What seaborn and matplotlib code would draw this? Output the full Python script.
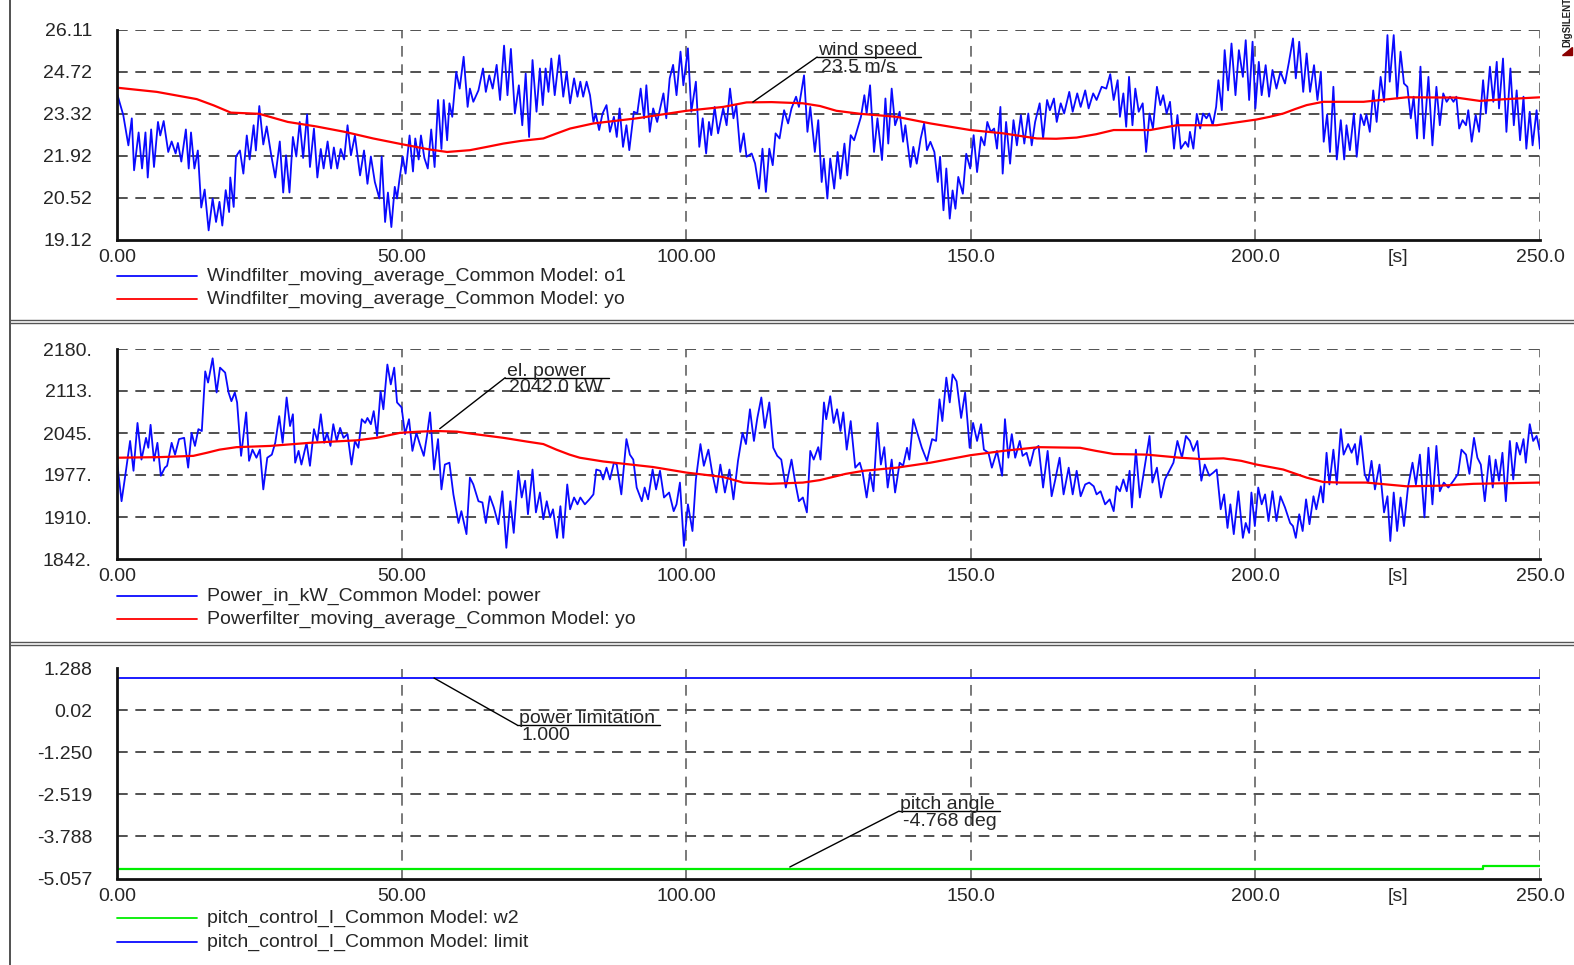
import numpy as np
import pandas as pd
import matplotlib
matplotlib.use("Agg")
import matplotlib.pyplot as plt
from matplotlib.lines import Line2D
from matplotlib.patches import Polygon
import seaborn as sns

sns.set_theme(style="white")
plt.rcParams["font.family"] = ["Liberation Sans", "DejaVu Sans"]
FS = 14
plt.rcParams["font.size"] = FS

# ---- wind speed (o1), [s] / [m/s]
wind_t = [0, 1.1, 2, 2.6, 3, 3.8, 4.4, 5, 5.4, 6, 6.5, 7.2, 7.6, 8.2, 9, 9.6, 10.3, 10.7, 11.3, 12.1,
          12.6, 13, 13.6, 14.2, 14.8, 15.4, 16.1, 16.8, 17.4, 18, 18.5, 19.1, 19.7, 19.9, 20.5, 20.9, 21.6,
          22.2, 22.8, 23.3, 24, 24.4, 25, 25.7, 26.3, 27.1, 27.8, 28.6, 29.2, 29.7, 30.3, 30.9, 31.5, 32.1,
          32.7, 33.4, 33.9, 34.6, 35.2, 35.8, 36.3, 37, 37.6, 38.1, 38.7, 39.3, 39.9, 40.5, 41.1, 41.8, 42.7,
          43.4, 44, 44.6, 45.3, 46.1, 46.5, 47.1, 47.6, 48.2, 48.8, 49.2, 49.6, 50.2, 50.7, 51.4, 52, 52.4,
          53, 53.4, 54, 54.6, 55.2, 55.8, 56.4, 57, 57.4, 58, 58.4, 58.9, 59.6, 60.2, 60.9, 61.6,
          62, 62.6, 63.5, 64.3, 64.8, 65.4, 66, 66.7, 67.3, 68, 68.6, 69.2, 69.9, 70.6, 71.2, 71.8, 72.4,
          73, 73.7, 74.3, 74.8, 75.3, 75.8, 76.3, 76.9, 77.7, 78.4, 79, 79.6, 80.3, 80.9, 81.4, 81.9, 82.5,
          83.1, 83.7, 84.1, 84.7, 85.3, 86, 86.6, 87.3, 87.8, 88.3, 88.9, 89.5, 90, 90.8, 91.4, 92, 92.6,
          93, 93.6, 94.2, 94.9, 96, 96.5, 97.1, 97.7, 98.3, 99, 99.5, 100.3, 100.9, 101.7, 102.3, 102.9,
          103.5, 104, 104.4, 105, 105.6, 106.5, 107.1, 107.7, 108.3, 108.8, 109.5, 110.1, 110.6, 111.5,
          112.1, 112.8, 113.4, 114, 114.6, 115.2, 115.7, 116.4, 117.2, 117.9, 118.5, 119.3, 119.8, 120.7,
          121.3, 121.8, 122.6, 123.2, 123.8, 124.2, 124.8,
          125.3, 126, 126.6, 127.1, 127.8, 128.3, 128.9, 129.5, 130.1, 130.7, 131.3, 131.7, 132.3, 133,
          133.6, 134.4, 135, 135.5, 136.1, 136.7, 137.5, 138.1, 138.5, 139.4, 139.9, 140.5, 141.2, 141.8,
          142.3, 142.9, 143.6, 144.2, 144.6, 145.2, 145.7, 146.3, 146.8, 147.3, 147.8, 148.6, 149.2, 149.9,
          150.5, 151.1, 151.8, 152.4, 152.9, 153.5, 154.1, 154.6, 155.2, 155.6, 156.2, 156.9, 157.5, 158.1,
          158.8, 159.4, 160.1, 160.7, 161.3, 162.1, 162.7, 163.4, 163.9, 164.6, 165.1, 165.8, 166.4, 167.3,
          167.9, 168.7, 169.3, 170.1, 170.7, 171.5, 172.1, 173, 173.8, 174.5, 175.1, 175.8, 176.2, 176.8,
          177.3, 177.8, 178.4, 178.9, 179.5, 180.2, 180.8, 181.4, 182, 182.7, 183.3, 183.8, 184.4, 185,
          185.7, 186.3, 186.9, 187.7, 188.2,
          188.5, 189.1, 189.7, 190.3, 190.8, 191.4, 191.9, 192.5, 193.1, 193.5, 194.1, 194.6, 195.2, 195.8,
          196.5, 197.1, 197.8, 198.3, 198.9, 199.5, 200, 200.6, 201.1, 201.8, 202.4, 203, 203.7, 204.4,
          205.2, 205.9, 206.6, 207.1, 207.7, 208.4, 209, 209.6, 210.3, 210.9, 211.5, 212, 212.6, 213.1,
          213.7, 214.3, 215, 215.6, 216, 216.6, 217.3, 217.8, 218.5, 219.1, 219.5, 220.1, 220.7, 221.3,
          222, 222.6, 223.2, 223.6, 224.3, 224.9, 225.5, 226.1, 226.7, 227.3, 227.8, 228.4, 229, 229.6,
          230.4, 231.1, 231.8, 232.4, 233, 233.6, 234.2, 234.8, 235.3, 235.8, 236.4, 237, 237.4, 238,
          238.7, 239.3, 240, 240.5, 241.2, 241.8, 242.4, 242.8, 243.5, 244.1, 244.8, 245.4, 245.9, 246.5,
          247.1, 247.6, 248.2, 248.7, 249.4, 250]
wind_v = [24.0, 23.28, 22.27, 23.17, 21.44, 22.7, 21.5, 22.7, 21.2, 22.8, 21.55, 23.05, 22.6, 23.08, 22.05,
          22.4, 22.0, 22.35, 21.73, 22.8, 21.5, 22.7, 21.5, 22.1, 20.2, 20.8, 19.44, 20.5, 19.72, 20.39,
          19.6, 20.78, 20.05, 21.2, 20.22, 21.9, 22.1, 21.33, 22.6, 21.8, 22.94, 22.1, 23.58, 22.3, 22.9,
          21.94, 21.2, 22.4, 20.7, 21.94, 20.7, 22.55, 21.9, 23.05, 21.85, 23.3, 21.55, 22.83, 21.2, 22.15,
          21.5, 22.4, 21.5, 22.2, 21.5, 22.15, 21.8, 22.94, 21.94, 22.6, 21.27, 22.1, 20.99, 21.9, 21.05,
          20.5, 21.9, 19.72, 20.7, 19.55, 20.89, 20.5, 21.1, 21.9, 21.33, 22.6, 21.4, 22.5, 21.8, 22.6,
          21.85, 21.5, 22.8, 21.55, 23.78, 22.15, 23.78, 22.44, 23.67, 23.22, 24.72, 24.16, 25.22, 23.55,
          24.16, 23.72, 24.1, 24.83, 24.05, 24.6, 24.16, 24.95, 23.78, 25.59, 23.94, 25.48, 23.33, 24.27,
          22.94, 24.66, 22.55, 25.11, 23.39, 24.83, 23.61, 24.83, 24.05, 25.16, 23.94, 25.27, 23.89, 24.72,
          23.67, 24.5, 23.89, 24.39, 23.89, 24.39, 23.94, 23.05, 23.33, 22.78, 23.33, 23.61, 22.72, 23.22,
          22.55, 23.5, 22.22, 22.94, 22.11, 23.39, 23.33, 24.16, 23.17, 24.27, 22.72, 23.5, 23.05, 24.0,
          23.17, 24.5, 24.95, 23.94, 25.39, 24.27, 25.5, 23.39, 24.39, 22.22, 23.17, 22.0, 23.05, 22.61,
          23.55, 22.67, 23.5, 22.94, 24.16, 23.17, 23.61, 22.05, 22.67, 21.89, 22.0, 21.67, 20.83, 22.16,
          20.72, 22.16, 21.61, 22.67, 22.5, 23.44, 23.0, 23.5, 23.89, 23.55, 24.6, 22.72, 23.55, 22.05,
          23.11, 21.05, 21.83, 20.5,
          21.83, 20.83, 22.05, 21.16, 22.33, 21.27, 22.61, 22.44, 22.83, 23.22, 23.94, 23.33, 24.27, 22.05,
          23.17, 21.78, 23.83, 22.33, 24.16, 22.94, 23.39, 22.39, 22.94, 21.55, 22.22, 21.66, 22.5, 23.0,
          22.11, 22.39, 22.05, 21.05, 21.89, 20.11, 21.5, 19.83, 20.77, 20.16, 21.22, 20.66, 21.99, 21.5,
          22.61, 21.38, 22.55, 22.27, 23.05, 22.72, 22.83, 22.16, 23.55, 21.33, 23.05, 21.66, 23.11, 22.27,
          23.28, 22.33, 23.33, 22.27, 23.05, 23.67, 22.5, 23.78, 23.44, 23.83, 23.05, 23.67, 23.33, 24.05,
          23.39, 24.0, 23.55, 24.1, 23.5, 24.0, 23.78, 24.22, 24.16, 24.64, 23.78, 24.44, 23.22, 24.0,
          22.89, 24.55, 22.94, 24.16, 23.39, 23.67, 22.05, 23.33, 22.83, 24.22, 23.61, 23.94, 23.33, 23.72,
          22.16, 23.28, 22.16, 22.39, 22.22,
          22.72, 22.16, 23.32, 22.83, 23.33, 23.17, 23.33, 22.94, 23.55, 24.44, 23.44, 25.44, 24.1, 25.66,
          23.94, 25.44, 24.55, 25.77, 23.78, 25.72, 23.5, 25.05, 23.94, 24.94, 23.89, 24.78, 24.16, 24.72,
          24.33, 25.05, 25.83, 24.5, 25.72, 24.05, 25.33, 24.05, 24.94, 23.78, 24.72, 22.39, 23.3, 22.05,
          24.22, 21.8, 23.11, 21.8, 22.94, 22.11, 23.33, 21.89, 23.3, 22.94, 23.3, 22.72, 24.1, 23.05,
          24.55, 23.72, 25.94, 24.39, 25.94, 23.83, 25.39, 24.33, 24.22, 23.17, 23.89, 22.5, 24.89, 22.5,
          24.55, 22.27, 24.22, 22.94, 24.0, 23.72, 23.89, 23.72, 23.89, 22.83, 23.11, 22.94, 23.44, 22.39,
          23.28, 22.72, 24.44, 23.33, 24.89, 23.72, 25.05, 23.5, 25.16, 22.72, 24.83, 22.94, 24.1, 22.44,
          23.89, 22.16, 23.39, 22.27, 23.44, 22.16]

# ---- wind moving average (yo)
wind_avg_t = [0, 7, 14, 17, 20, 25, 30, 35, 40, 45, 50, 55, 58, 62, 65, 67.9, 71, 74.9, 77, 79.6, 83.7,
              91.3, 100, 106.5, 110.6, 115, 120.5, 123.5, 126.4, 130.6, 137, 142.9, 149.9, 155.7,
              161.6, 165, 168.6, 172, 175.1, 181.5, 186.2, 193.2, 200.2, 202.5, 204.9, 207, 209,
              211.9, 219, 226.6, 235.3, 239.4, 244.1, 250]
wind_avg_v = [24.19, 24.05, 23.81, 23.6, 23.36, 23.32, 23.05, 22.9, 22.72, 22.5, 22.31, 22.13, 22.05,
              22.11, 22.22, 22.33, 22.42, 22.5, 22.65, 22.83, 23.0, 23.17, 23.42, 23.55, 23.7, 23.71,
              23.67, 23.58, 23.42, 23.32, 23.22, 23.0, 22.78, 22.67, 22.5, 22.49, 22.53, 22.64, 22.78,
              22.78, 22.94, 22.94, 23.13, 23.22, 23.33, 23.48, 23.61, 23.72, 23.72, 23.87, 23.86,
              23.75, 23.81, 23.87]

# ---- electrical power [kW]
power_t = [0, 0.8, 1.4, 2.3, 2.9, 3.6, 4.3, 5.1, 5.5, 5.9, 6.5, 7.1, 7.7, 8.4, 8.8, 9.6, 10.2, 10.9, 11.8,
           12.5, 13.1, 13.7, 14.3, 14.9, 15.5, 16, 16.8, 17.5, 18.1, 19, 19.6, 20.1, 20.7, 21.1, 21.8,
           22.7, 23.2, 23.8, 24.5, 25.1, 25.7, 26.4, 27.2, 27.8, 28.5, 29.1, 29.8, 30.4, 30.9, 31.3,
           31.9, 32.4, 33.3, 33.9, 34.6, 35.2, 35.8, 36.4, 36.9, 37.5, 38, 38.6, 39.2, 39.8, 40.5, 41.2,
           41.8, 42.4, 43, 43.6, 44, 44.6, 45.1, 45.7, 46.3, 46.8, 47.5, 48.1, 48.7, 49.2, 50, 50.6,
           51.3, 51.9, 52.6, 53.2, 53.9, 54.5, 55, 55.7, 56.4, 57, 57.6, 58.4, 59.1, 60, 60.5, 61.4,
           62, 62.6, 63.5, 64.2, 64.8, 65.5, 66.2, 67, 67.7, 68.4, 69.1, 69.7, 70.5, 71.1, 71.7, 72.2,
           73, 73.6, 74.3, 74.9, 75.5, 76.1, 76.6, 77.3, 77.9, 78.4, 79.1, 79.6, 80.3, 80.9, 81.4, 82.2,
           83, 83.7, 84.2, 84.9, 85.4, 86, 86.6, 87.3, 87.8, 88.6, 89.5, 90.1, 90.7, 91.3, 92.2, 92.7,
           93.3, 94.1, 94.7, 95.4, 96.1, 97, 97.8, 98.3, 98.9, 99.6, 100.3, 101.1, 101.7, 102.5, 103.1,
           103.9, 104.6, 105.3, 106, 106.8, 107.6, 108.3, 109.1, 109.9, 110.5, 111.2, 111.9, 112.5,
           113.2, 113.8, 114.6, 115.3, 116, 116.7, 117.5, 118.5, 119.1, 119.8, 120.5, 121.2, 121.8,
           122.4, 123.2, 123.6, 124.2, 124.6,
           125.3, 125.9, 126.5, 127.1, 127.6, 128.2, 128.9, 129.7, 130.5, 131, 131.7, 132.3, 132.9,
           133.6, 134.2, 134.8, 135.4, 136.1, 136.7, 137.5, 138.1, 138.8, 139.2, 139.9, 140.6, 141.4,
           142.3, 143.2, 143.9, 144.5, 145, 145.7, 146.3, 146.8, 147.5, 148.3, 149, 149.8, 150.4, 151.1,
           151.8, 152.3, 153.1, 153.7, 154.6, 155.5, 156, 156.6, 157.2, 157.8, 158.6, 159.1, 159.8,
           160.4, 161.1, 161.9, 162.7, 163.5, 164.2, 164.8, 165.6, 166.3, 167.2, 167.9, 168.6, 169.3,
           170.1, 170.8, 171.6, 172.1, 172.8, 173.6, 174.4, 175.1, 175.6, 176.2, 176.8, 177.4, 177.9,
           178.3, 179, 179.7, 180.6, 181.4, 181.9, 182.7, 183.4, 184.1, 185, 185.6, 186.3, 187.1, 187.8,
           188.5, 189.1, 189.8, 190.5, 191.1, 191.9, 192.6, 193.2, 193.9, 194.5, 195.1, 195.6, 196.2,
           197, 197.8, 198.3, 198.9, 199.3, 199.9, 200.5, 201.1, 201.7, 202.3, 203, 203.7, 204.4, 205.2,
           206.1, 206.6, 207.1, 207.7, 208.3, 208.9, 209.5, 210.2, 210.7, 211.5, 211.9, 212.5, 213,
           213.7, 214.3, 215, 215.5, 216.3, 216.9, 217.5, 217.9, 218.5, 219.2, 219.8, 220.4, 221, 221.8,
           222.6, 223.2, 223.7, 224.3, 224.9, 225.5, 226.1, 226.8, 227.6, 228.2, 228.9, 229.7, 230.4,
           231.1, 231.8, 232.4, 233.1, 233.9, 234.8, 235.6, 236.2, 237, 237.6, 238.4, 239, 239.6, 240.3,
           241.1, 241.7, 242.2, 242.8, 243.4, 244, 244.7, 245.3, 245.9, 246.5, 247.1, 247.5, 248.2,
           248.8, 249.4, 250]
power_v = [2000, 1935, 1973, 2032, 1984, 2061, 2002, 2037, 2021, 2058, 2000, 2029, 1976, 1989, 1992, 2029,
           2010, 2035, 2037, 1989, 2045, 2024, 2051, 2048, 2144, 2126, 2165, 2110, 2150, 2142, 2110, 2096,
           2110, 2094, 2008, 2078, 2000, 2018, 2005, 2018, 1954, 2005, 2010, 2029, 2072, 2029, 2102, 2056,
           2075, 1997, 2016, 1994, 2029, 1992, 2051, 2032, 2075, 2029, 2045, 2024, 2059, 2032, 2053, 2037,
           2043, 1994, 2032, 2021, 2067, 2061, 2069, 2059, 2080, 2040, 2112, 2083, 2155, 2123, 2150, 2094,
           2086, 2043, 2067, 2016, 2045, 2027, 2008, 2043, 2078, 1986, 2035, 1954, 1994, 1997, 1946, 1900,
           1919, 1882,
           1973, 1962, 1935, 1933, 1900, 1943, 1925, 1898, 1951, 1860, 1935, 1884, 1984, 1941, 1968, 1914,
           1986, 1917, 1949, 1906, 1935, 1909, 1922, 1876, 1927, 1876, 1962, 1922, 1941, 1930, 1941, 1930,
           1938, 1946, 1986, 1984, 1970, 1989, 1970, 1997, 1994, 1946, 2035, 2010, 2002, 1957, 1935, 1957,
           1938, 1986, 1954, 1984, 1941, 1949, 1919, 1930, 1965, 1863, 1930, 1887, 1970, 2027, 1992, 2018,
           1979, 1949, 1994, 1949, 1986, 1938, 2000, 2045, 2027, 2083, 2032, 2069, 2102, 2053, 2094, 2021,
           2008, 2002, 1957, 2002, 1968, 1935, 1941, 1917, 2016, 2002, 2022, 2002, 2094, 2067,
           2104, 2061, 2083, 2048, 2078, 2018, 2064, 1989, 1997, 1981, 1941, 1981, 1951, 2061, 1994, 2022,
           1957, 2002, 1949, 1997, 1992, 2021, 2002, 2067, 2045, 2021, 2000, 2035, 2032, 2099, 2064, 2134,
           2094, 2139, 2128, 2069, 2110, 2021, 2061, 2032, 2059, 2018, 2013, 1989, 2016, 1976, 2067, 2005,
           2043, 2005, 2032, 2008, 2013, 1992, 2018, 2024, 1957, 2016, 1943, 1968, 2005, 1946, 1989, 1946,
           1984, 1943, 1962, 1965, 1959, 1946, 1951, 1930, 1938, 1919, 1959, 1951, 1970, 1951, 1984, 1925,
           2018, 1941, 1994, 2040, 1965, 1989, 1941, 1970, 1986, 1997, 2032, 2005, 2040,
           2032, 2016, 2032, 1968, 1994, 1976, 1981, 1986, 1922, 1946, 1892, 1930, 1882, 1951, 1876, 1900,
           1884, 1949, 1895, 1957, 1930, 1946, 1903, 1951, 1903, 1943, 1925, 1900, 1895, 1876, 1914, 1887,
           1938, 1898, 1943, 1922, 1959, 1933, 2013, 1962, 2018, 1962, 2051, 2010, 2027, 2013, 2027, 1994,
           2040, 1979, 1965, 2000, 1954, 1994, 1917, 1943, 1871, 1949, 1887, 1941, 1895, 1957, 1997, 1962,
           2010, 1909, 2021, 1930, 2024, 1951, 1965, 1957, 1968, 1979, 2018, 2010, 1979, 2037, 2005, 1994,
           1935, 2008, 1957, 2002, 1968, 2013, 1935, 2032, 1970, 2029, 2010, 2035, 1997, 2059, 2032, 2040,
           2018]

# ---- power moving average (yo)
power_avg_t = [0, 7.6, 13.4, 15.8, 18, 21, 26.9, 33.9, 42.1, 45.6, 49.7, 53, 56.1, 59.7, 62, 67.9, 72,
               74.9, 77.2, 79.5, 81.3, 85.4, 94.2, 100.1, 106.5, 110, 114.7, 120.5, 123.5, 125.3, 128,
               131.2, 137, 142.9, 149.9, 155.7, 161.9, 169.2, 172, 175.1, 180.9, 186.8, 190.3, 194.4,
               197.5, 200.2, 204.9, 209, 211.9, 215, 219.5, 226.6, 232.4, 238.3, 250]
power_avg_v = [2005, 2006, 2008, 2013, 2018, 2022, 2024, 2029, 2033, 2037, 2045, 2047, 2048, 2047, 2044,
               2037, 2031, 2027, 2018, 2010, 2005, 1999, 1990, 1981, 1974, 1965, 1963, 1965, 1969, 1973,
               1979, 1984, 1989, 1997, 2009, 2016, 2022, 2021, 2016, 2011, 2010, 2005, 2003, 2004, 2000,
               1994, 1986, 1973, 1966, 1965, 1965, 1959, 1960, 1963, 1965]

# ---- pitch controller
pitch_t = [0, 240, 250]
pitch_v = [-4.768, -4.67, -4.67]
limit_t = [0, 250]
limit_v = [1.0, 1.0]

x_ticks = [0, 50, 100, 150, 200, 225, 250]
x_labels = ["0.00", "50.00", "100.00", "150.0", "200.0", "[s]", "250.0"]
wind_labels = ["19.12", "20.52", "21.92", "23.32", "24.72", "26.11"]
power_labels = ["1842.", "1910.", "1977.", "2045.", "2113.", "2180."]
pitch_labels = ["-5.057", "-3.788", "-2.519", "-1.250", "0.02", "1.288"]

BLUE, RED, GREEN = "#0a0aff", "#ff0000", "#00ee00"
W, H = 1574, 965

fig = plt.figure(figsize=(W / 100, H / 100), dpi=100)
fig.patch.set_facecolor("white")


def make_axes(top_px, bottom_px):
    return fig.add_axes([117 / W, 1 - bottom_px / H, (1540 - 117) / W, (bottom_px - top_px) / H])


def style_axes(ax, lo, hi, labels):
    yt = np.linspace(lo, hi, 6)
    ax.set_xlim(0, 250)
    ax.set_ylim(lo, hi)
    ax.set_xticks(x_ticks, x_labels)
    ax.set_xticks([25, 75, 125, 175], minor=True)
    ax.set_yticks(yt, labels)
    ax.set_yticks((yt[:-1] + yt[1:]) / 2, minor=True)
    ax.tick_params(axis="y", which="major", direction="in", length=0, pad=18, labelsize=FS)
    ax.tick_params(axis="x", which="major", direction="in", length=6, width=1.2, pad=6.5, labelsize=FS)
    ax.tick_params(which="minor", direction="in", length=5, width=1.2, color="#333333")
    ax.tick_params(axis="x", which="major", color="#333333")
    for s in ["top", "right"]:
        ax.spines[s].set_visible(False)
    for s in ["left", "bottom"]:
        ax.spines[s].set_color("#111111")
        ax.spines[s].set_linewidth(2)
    for y in yt[1:]:
        ax.axhline(y, color="#222222", lw=1.1, ls=(0, (7, 5)), zorder=0.5)
    for x in [50, 100, 150, 200, 250]:
        ax.axvline(x, color="#555555", lw=1.1, ls=(0, (7, 5)), zorder=0.5)
    ax.set_xlabel("")
    ax.set_ylabel("")
    ax.set_facecolor("white")


def callout(ax, tip, anchor, end_x, title, value):
    ax.annotate("", xy=tip, xytext=anchor,
                arrowprops=dict(arrowstyle="-", color="black", lw=1, shrinkA=0, shrinkB=0))
    ax.plot([anchor[0], end_x], [anchor[1], anchor[1]], color="black", lw=1)
    ax.annotate(title, xy=anchor, xytext=(1, 1.5), textcoords="offset points",
                ha="left", va="baseline", fontsize=FS)
    ax.annotate(value, xy=anchor, xytext=(3, -1.2), textcoords="offset points",
                ha="left", va="top", fontsize=FS)


def legend(rows, y_px):
    for (label, color), y in zip(rows, y_px):
        fig.add_artist(Line2D([117 / W, 197 / W], [1 - y / H] * 2, color=color, lw=1.3))
        fig.text(207 / W, 1 - y / H, label, ha="left", va="center", fontsize=FS)


# panel 1: wind
ax1 = make_axes(30, 240)
sns.lineplot(data=pd.DataFrame({"t": wind_t, "v": wind_v}), x="t", y="v", ax=ax1,
             color=BLUE, lw=1.3, estimator=None, sort=False)
sns.lineplot(data=pd.DataFrame({"t": wind_avg_t, "v": wind_avg_v}), x="t", y="v", ax=ax1,
             color=RED, lw=1.6, estimator=None, sort=False)
callout(ax1, (111.7, 23.71), (123.0, 25.21), 141.2, "wind speed", "23.5 m/s")
style_axes(ax1, 19.12, 26.11, wind_labels)
legend([("Windfilter_moving_average_Common Model: o1", BLUE),
        ("Windfilter_moving_average_Common Model: yo", RED)], [276, 299])

# panel 2: power
ax2 = make_axes(349, 559)
sns.lineplot(data=pd.DataFrame({"t": power_t, "v": power_v}), x="t", y="v", ax=ax2,
             color=BLUE, lw=1.3, estimator=None, sort=False)
sns.lineplot(data=pd.DataFrame({"t": power_avg_t, "v": power_avg_v}), x="t", y="v", ax=ax2,
             color=RED, lw=1.6, estimator=None, sort=False)
callout(ax2, (56.7, 2051.7), (68.2, 2133.8), 86.4, "el. power", "2042.0 kW")
style_axes(ax2, 1842, 2180, power_labels)
legend([("Power_in_kW_Common Model: power", BLUE),
        ("Powerfilter_moving_average_Common Model: yo", RED)], [596, 619])

# panel 3: pitch control
ax3 = make_axes(668.5, 878.5)
sns.lineplot(data=pd.DataFrame({"t": pitch_t, "v": pitch_v}), x="t", y="v", ax=ax3,
             color=GREEN, lw=1.6, estimator=None, sort=False, drawstyle="steps-post")
sns.lineplot(data=pd.DataFrame({"t": limit_t, "v": limit_v}), x="t", y="v", ax=ax3,
             color=BLUE, lw=1.3, estimator=None, sort=False)
callout(ax3, (55.7, 1.0), (70.3, -0.42), 95.4, "power limitation", "1.000")
callout(ax3, (118.2, -4.71), (137.4, -3.02), 155.1, "pitch angle", "-4.768 deg")
style_axes(ax3, -5.057, 1.288, pitch_labels)
legend([("pitch_control_I_Common Model: w2", GREEN),
        ("pitch_control_I_Common Model: limit", BLUE)], [918, 942])

# page frame
fig.add_artist(Line2D([10 / W, 10 / W], [0, 1], color="#333333", lw=1.2))
for y in [320, 323, 642, 645]:
    fig.add_artist(Line2D([10 / W, 1], [1 - y / H] * 2, color="#555555", lw=1))

# DIgSILENT mark
fig.text(1567 / W, 1 - 47 / H, "DIgSILENT", rotation=90, ha="center", va="bottom",
         fontsize=7, fontweight="bold", color="#222222")
fig.add_artist(Polygon([[1562 / W, 1 - 55 / H], [1572 / W, 1 - 55 / H], [1572 / W, 1 - 47 / H]],
                       closed=True, transform=fig.transFigure, color="#8b0000"))

fig.savefig("out.png", dpi=100)
